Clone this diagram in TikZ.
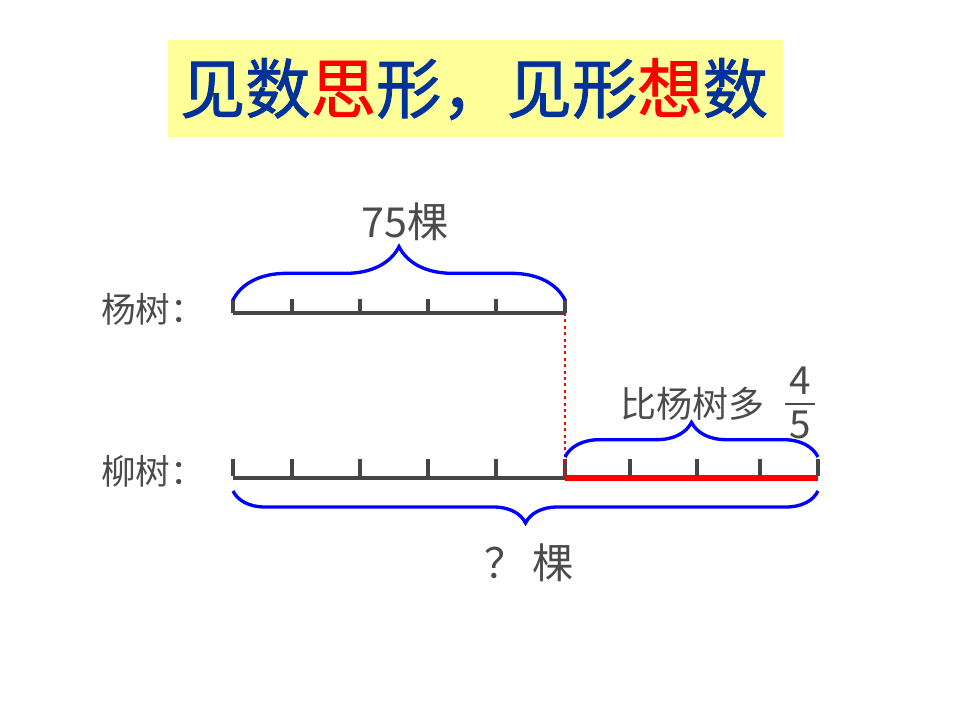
\documentclass[tikz,border=0pt]{standalone}
\usepackage{fontspec}
\newfontfamily\cjk{Noto Sans CJK SC}
\newfontfamily\cjktitle[FakeBold=1.3]{Noto Sans CJK SC}
\usetikzlibrary{decorations.pathreplacing}

\definecolor{titleblue}{RGB}{0,51,153}
\definecolor{bandyellow}{RGB}{255,255,153}
\definecolor{bargray}{RGB}{70,70,70}
\definecolor{labelgray}{RGB}{75,75,75}

\tikzset{every picture/.style={line width=0.75pt}}
\tikzset{
  barline/.style={draw=bargray, line width=3pt},
  redline/.style={draw=red, line width=4.4pt},
  bluebrace/.style={draw=blue, line width=2.5pt, decorate, decoration={brace, amplitude=#1}},
  lbl/.style={text=labelgray, font=\cjk\fontsize{26}{30}\selectfont},
  biglbl/.style={text=labelgray, font=\cjk\fontsize{31}{35}\selectfont}
}

\begin{document}
\begin{tikzpicture}[x=0.75pt,y=0.75pt,yscale=-1,xscale=1]
  \path[use as bounding box] (0,0) rectangle (960,720);

  % title band
  \fill[bandyellow] (168,40) rectangle (783,137);
  \node[text=titleblue, font=\cjktitle\fontsize{49}{53}\selectfont] (title) at (474,89)
    {见数\textcolor{red}{思}形，见形\textcolor{red}{想}数};

  % the two bars
  \coordinate (ya) at (233,313);
  \coordinate (yb) at (565,313);
  \coordinate (la) at (233,478);
  \coordinate (lm) at (565,478);
  \coordinate (lb) at (818,478);

  \node[lbl] (yang) at (153,309) {杨树：};
  \node[lbl] (liu) at (153,471) {柳树：};

  \draw[barline] (ya) -- (yb);
  \foreach \x in {233,292,360,428,496,565}
    \draw[barline] (\x,313) -- (\x,299);

  \draw[barline] (la) -- (lm);
  \draw[redline] (lm) -- (lb);
  \foreach \x in {233,292,360,428,496,565,630,697,760,818}
    \draw[barline] (\x,476) -- (\x,459);

  \draw[red, line width=2.2pt, dash pattern=on 2.2pt off 2.6pt] (yb) -- (lm);

  % braces
  \draw[bluebrace=40pt] (233,300) -- (565,300);
  \node[biglbl] (yangnum) at (405,222) {75棵};

  \draw[bluebrace=26pt] (565,457) -- (818,457);
  \node[lbl, font=\cjk\fontsize{27}{31}\selectfont] (more) at (692,404) {比杨树多};
  \node[lbl, font=\cjk\fontsize{29}{33}\selectfont] (num) at (800,381) {4};
  \node[lbl, font=\cjk\fontsize{29}{33}\selectfont] (den) at (800,425) {5};
  \draw[labelgray, line width=1.5pt] (785,404) -- (815,404);

  \draw[bluebrace=24pt] (818,491) -- (233,491);
  \node[biglbl] (total) at (529,563) {？\,棵};

\end{tikzpicture}
\end{document}
